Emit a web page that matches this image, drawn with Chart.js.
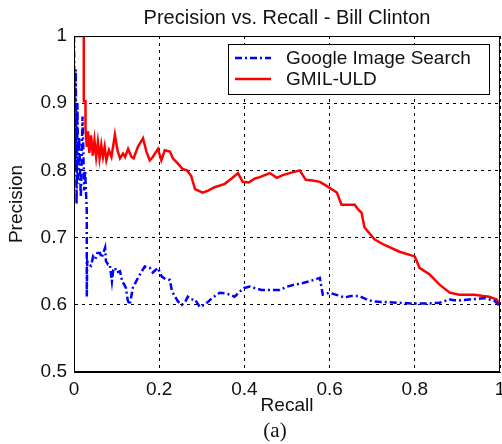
<!DOCTYPE html>
<html>
<head>
<meta charset="utf-8">
<script src="https://cdn.jsdelivr.net/npm/chart.js@4/dist/chart.umd.min.js"></script>
<style>
  html, body { margin: 0; padding: 0; background: #fff; }
  #wrap { width: 502px; height: 444px; position: relative; }
</style>
</head>
<body>
<div id="wrap"><canvas id="c" width="502" height="444"></canvas></div>
<script>
const chartTitle = "Precision vs. Recall - Bill Clinton";
const xAxisTitle = "Recall";
const yAxisTitle = "Precision";
const caption = "(a)";
const seriesNames = ["Google Image Search", "GMIL-ULD"];
const xTicks = [0, 0.2, 0.4, 0.6, 0.8, 1];
const yTicks = [0.5, 0.6, 0.7, 0.8, 0.9, 1];

const googleRecall = [0,0.002,0.004,0.006,0.008,0.01,0.012,0.016,0.02,0.024,0.026,0.03,0.03,0.031,0.035,0.04,0.045,0.05,0.055,0.061,0.065,0.073,0.075,0.08,0.084,0.089,0.092,0.096,0.1,0.108,0.113,0.118,0.122,0.126,0.131,0.138,0.15,0.166,0.178,0.185,0.197,0.206,0.215,0.225,0.23,0.244,0.253,0.26,0.267,0.275,0.284,0.295,0.307,0.324,0.342,0.355,0.366,0.377,0.39,0.4,0.413,0.44,0.46,0.483,0.5,0.518,0.535,0.553,0.577,0.584,0.6,0.62,0.635,0.65,0.67,0.69,0.706,0.73,0.764,0.79,0.811,0.835,0.858,0.882,0.9,0.928,0.95,0.964,0.987,1.0];
const googlePrecision = [1.0,0.8,0.95,0.75,0.9,0.78,0.85,0.76,0.88,0.77,0.8,0.74,0.612,0.665,0.66,0.658,0.672,0.668,0.677,0.677,0.67,0.685,0.665,0.66,0.66,0.635,0.652,0.655,0.648,0.65,0.635,0.63,0.625,0.607,0.6,0.625,0.64,0.657,0.655,0.648,0.655,0.642,0.638,0.637,0.62,0.605,0.6,0.603,0.612,0.608,0.608,0.597,0.6,0.61,0.618,0.617,0.615,0.612,0.62,0.625,0.627,0.622,0.622,0.622,0.627,0.63,0.632,0.635,0.64,0.615,0.618,0.614,0.611,0.613,0.613,0.607,0.605,0.604,0.603,0.602,0.602,0.602,0.603,0.608,0.606,0.608,0.609,0.61,0.606,0.598];

const gmilRecall = [0,0.023,0.023,0.027,0.027,0.03,0.033,0.036,0.04,0.044,0.048,0.052,0.056,0.06,0.064,0.068,0.072,0.076,0.082,0.088,0.096,0.102,0.108,0.115,0.12,0.127,0.135,0.14,0.15,0.162,0.17,0.178,0.185,0.197,0.205,0.213,0.225,0.232,0.244,0.255,0.265,0.275,0.284,0.302,0.315,0.33,0.354,0.37,0.385,0.396,0.41,0.425,0.436,0.46,0.476,0.49,0.506,0.53,0.544,0.56,0.577,0.59,0.6,0.617,0.628,0.659,0.667,0.675,0.682,0.706,0.729,0.764,0.8,0.811,0.835,0.858,0.882,0.905,0.94,0.96,0.975,0.992,1.0];
const gmilPrecision = [1,1,0.903,0.903,0.862,0.835,0.858,0.826,0.852,0.822,0.845,0.82,0.842,0.818,0.838,0.82,0.835,0.815,0.83,0.82,0.853,0.83,0.818,0.825,0.82,0.832,0.82,0.818,0.835,0.848,0.828,0.815,0.82,0.832,0.815,0.83,0.828,0.818,0.81,0.802,0.8,0.792,0.772,0.767,0.77,0.775,0.78,0.788,0.796,0.783,0.782,0.788,0.79,0.796,0.789,0.793,0.796,0.8,0.786,0.785,0.783,0.778,0.774,0.767,0.749,0.749,0.742,0.737,0.715,0.697,0.689,0.679,0.672,0.655,0.645,0.63,0.618,0.615,0.615,0.613,0.612,0.608,0.6];

const toPts = (xs, ys) => xs.map((x, i) => ({ x: x, y: ys[i] }));
const FONT = "'Liberation Sans', Arial, sans-serif";
const TXT = '#111';

const framePlugin = {
  id: 'frame',
  afterDatasetsDraw(chart) {
    const { ctx, chartArea: a } = chart;
    ctx.save();
    ctx.strokeStyle = '#000';
    ctx.lineWidth = 1;
    ctx.strokeRect(a.left + 0.5, a.top + 0.5, a.right - a.left - 1, a.bottom - a.top - 1);
    // legend
    const bx = a.left + 154, by = a.top + 8, bw = 261, bh = 50;
    ctx.fillStyle = '#fff';
    ctx.fillRect(bx, by, bw, bh);
    ctx.strokeRect(bx + 0.5, by + 0.5, bw, bh);
    chart.data.datasets.forEach((ds, i) => {
      const ly = by + 14 + i * 21;
      ctx.beginPath();
      ctx.strokeStyle = ds.borderColor;
      ctx.lineWidth = ds.borderWidth;
      ctx.setLineDash(ds.borderDash || []);
      ctx.moveTo(bx + 7, ly);
      ctx.lineTo(bx + 43, ly);
      ctx.stroke();
      ctx.setLineDash([]);
      ctx.fillStyle = TXT;
      ctx.font = '19px ' + FONT;
      ctx.textBaseline = 'middle';
      ctx.textAlign = 'left';
      ctx.fillText(ds.label, bx + 58, ly + 1);
    });
    // title
    ctx.fillStyle = TXT;
    ctx.font = '20px ' + FONT;
    ctx.textAlign = 'center';
    ctx.textBaseline = 'middle';
    ctx.fillText(chartTitle, (a.left + a.right) / 2, 18);
    // caption
    ctx.font = '21px "Liberation Serif", "Times New Roman", serif';
    ctx.fillText(caption, (a.left + a.right) / 2 - 12, 431);
    ctx.restore();
  }
};

new Chart(document.getElementById('c'), {
  type: 'scatter',
  data: {
    datasets: [
      {
        label: seriesNames[0],
        data: toPts(googleRecall, googlePrecision),
        showLine: true,
        borderColor: '#0000ff',
        backgroundColor: '#0000ff',
        borderWidth: 2.5,
        borderDash: [7, 3, 2, 3],
        pointRadius: 0,
        tension: 0
      },
      {
        label: seriesNames[1],
        data: toPts(gmilRecall, gmilPrecision),
        showLine: true,
        borderColor: '#ff0000',
        backgroundColor: '#ff0000',
        borderWidth: 2.5,
        pointRadius: 0,
        tension: 0
      }
    ]
  },
  options: {
    responsive: false,
    animation: false,
    events: [],
    layout: { padding: { top: 36, right: 2, left: 0, bottom: 0 } },
    plugins: { legend: { display: false }, title: { display: false }, tooltip: { enabled: false } },
    scales: {
      x: {
        type: 'linear',
        min: 0, max: 1,
        afterFit(s) { s.height = 72; s.paddingLeft = 0; s.paddingRight = 0; },
        afterBuildTicks(s) { s.ticks = xTicks.map(v => ({ value: v })); },
        ticks: { color: TXT, font: { family: FONT, size: 19 }, padding: 6, callback: v => String(v) },
        grid: { color: '#000', lineWidth: 1, drawTicks: false },
        border: { color: '#000', width: 1, dash: [3, 4] },
        title: { display: true, text: xAxisTitle, color: TXT, font: { family: FONT, size: 19 }, padding: { top: 0, bottom: 27 } }
      },
      y: {
        type: 'linear',
        min: 0.5, max: 1,
        afterFit(s) { s.width = 74; s.paddingTop = 0; s.paddingBottom = 0; },
        afterBuildTicks(s) { s.ticks = yTicks.map(v => ({ value: v })); },
        ticks: { color: TXT, font: { family: FONT, size: 19 }, padding: 7, callback: v => String(v) },
        grid: { color: '#000', lineWidth: 1, drawTicks: false },
        border: { color: '#000', width: 1, dash: [3, 4] },
        title: { display: true, text: yAxisTitle, color: TXT, font: { family: FONT, size: 19 }, padding: { top: 5, bottom: 0 } }
      }
    }
  },
  plugins: [framePlugin]
});
</script>
</body>
</html>
